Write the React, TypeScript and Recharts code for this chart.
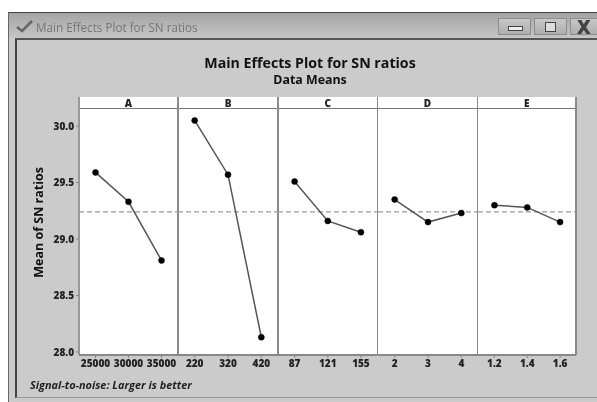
import React from "react";
import { LineChart, Line, XAxis, YAxis, ReferenceLine } from "recharts";

const levelsA = ["25000", "30000", "35000"];
const levelsB = ["220", "320", "420"];
const levelsC = ["87", "121", "155"];
const levelsD = ["2", "3", "4"];
const levelsE = ["1.2", "1.4", "1.6"];
const meansA = [29.59, 29.33, 28.81];
const meansB = [30.05, 29.57, 28.13];
const meansC = [29.51, 29.16, 29.06];
const meansD = [29.35, 29.15, 29.23];
const meansE = [29.3, 29.28, 29.15];
const grandMean = 29.24;
const yTicks = [28, 28.5, 29, 29.5, 30];
const factorNames = ["A", "B", "C", "D", "E"];
const factorLevels = [levelsA, levelsB, levelsC, levelsD, levelsE];
const factorMeans = [meansA, meansB, meansC, meansD, meansE];

const FONT = "'Open Sans', sans-serif";
const edges = [79, 178, 278, 377.5, 477.5, 576];
const plotTop = 108.5;
const plotBottom = 355;
const chartTop = 97;
const chartHeight = 300;
const yAxisWidth = 60;
const domain: [number, number] = [27.973, 30.156];

function Panel({ index }: { index: number }) {
  const first = index === 0;
  const w = edges[index + 1] - edges[index];
  const left = first ? yAxisWidth : 0;
  const data = factorLevels[index].map((level, i) => ({ level, mean: factorMeans[index][i] }));
  return (
    <div style={{ position: "absolute", left: edges[index] - left, top: chartTop }}>
      <LineChart
        width={w + left}
        height={chartHeight}
        data={data}
        margin={{ top: plotTop - chartTop, bottom: chartHeight - (plotBottom - chartTop) - 30, left: 0, right: 0 }}
        style={{ overflow: "visible" }}
      >
        <XAxis
          dataKey="level"
          scale="band"
          interval={0}
          height={30}
          tick={{ fontSize: 10, fontWeight: 800, fontFamily: FONT, fill: "#222" }}
          tickLine={{ stroke: "#888" }}
          tickSize={3}
          axisLine={{ stroke: "#888", strokeWidth: 2 }}
        />
        <YAxis
          hide={!first}
          width={yAxisWidth}
          domain={domain}
          ticks={yTicks}
          allowDataOverflow
          tickFormatter={(v: number) => v.toFixed(1)}
          tick={{ fontSize: 10, fontWeight: 800, fontFamily: FONT, fill: "#222" }}
          tickLine={{ stroke: "#888" }}
          tickSize={3}
          axisLine={false}
          label={{
            value: "Mean of SN ratios",
            angle: -90,
            position: "insideLeft",
            dx: 15,
            dy: 46,
            style: { fontSize: 12.5, fontWeight: 700, fontFamily: FONT, fill: "#111" },
          }}
        />
        <ReferenceLine y={grandMean} stroke="#999" strokeWidth={1.2} strokeDasharray="5 3" />
        <Line
          dataKey="mean"
          isAnimationActive={false}
          stroke="#555"
          strokeWidth={1.5}
          dot={{ r: 3, fill: "#000", stroke: "#000", strokeWidth: 0.5 }}
        />
      </LineChart>
    </div>
  );
}

const abs = (s: React.CSSProperties): React.CSSProperties => ({ position: "absolute", ...s });

function WinButton({ x, w, children }: { x: number; w: number; children: React.ReactNode }) {
  return (
    <div style={abs({ left: x, top: 18, width: w, height: 17, border: "1px solid #8d8d8d", background: "linear-gradient(#c8c8c8,#aeaeae)", boxSizing: "border-box" })}>
      {children}
    </div>
  );
}

export default function App() {
  return (
    <div style={abs({ left: 0, top: 0, width: 597, height: 402, background: "#fff", overflow: "hidden", fontFamily: FONT, filter: "blur(0.45px)" })}>
      {/* window */}
      <div style={abs({ left: 8, top: 12, width: 589, height: 390, background: "#cbcbcb", borderTop: "1px solid #444", borderLeft: "1px solid #666", boxSizing: "border-box" })} />
      <div style={abs({ left: 9, top: 13, width: 588, height: 25, background: "linear-gradient(#a4a4a4,#c6c6c6)" })} />
      <div style={abs({ left: 15, top: 38, width: 582, height: 360, borderTop: "2px solid #555", borderLeft: "2px solid #444", borderBottom: "1px solid #999", boxSizing: "border-box" })} />
      <svg style={abs({ left: 16, top: 19 })} width={18} height={14}>
        <path d="M1 8 L6 12 L16 2" fill="none" stroke="#666" strokeWidth={2.6} />
      </svg>
      <div style={abs({ left: 36, top: 18, fontSize: 11.7, color: "#757575", whiteSpace: "nowrap", lineHeight: "18px" })}>Main Effects Plot for SN ratios</div>
      <WinButton x={498} w={33}>
        <div style={abs({ left: 9, top: 7, width: 13, height: 3, background: "#eee", border: "1px solid #444" })} />
      </WinButton>
      <WinButton x={534} w={33}>
        <div style={abs({ left: 10, top: 3, width: 9, height: 8, border: "1.5px solid #444", background: "#ddd" })} />
      </WinButton>
      <WinButton x={570} w={30}>
        <div style={abs({ left: 6, top: -2, fontSize: 19, fontWeight: 800, lineHeight: "20px", color: "#444" })}>X</div>
      </WinButton>

      {/* titles */}
      <div style={abs({ left: 110, width: 400, top: 55, textAlign: "center", fontSize: 14.2, fontWeight: 700, color: "#111", lineHeight: "15px" })}>Main Effects Plot for SN ratios</div>
      <div style={abs({ left: 110, width: 400, top: 73, textAlign: "center", fontSize: 12.4, fontWeight: 700, color: "#111", lineHeight: "14px" })}>Data Means</div>

      {/* plot frame and strips */}
      <div style={abs({ left: edges[0], top: chartTop, width: edges[5] - edges[0], height: plotBottom - chartTop, background: "#fff" })} />
      <div style={abs({ left: edges[0], top: plotTop - 1, width: edges[5] - edges[0], height: 1.5, background: "#777" })} />
      {factorNames.map((name, i) => (
        <div key={name} style={abs({ left: edges[i], width: edges[i + 1] - edges[i], top: chartTop, height: 11.5, textAlign: "center", fontSize: 10, fontWeight: 800, lineHeight: "12px", color: "#222" })}>
          {name}
        </div>
      ))}
      {edges.map((x, i) => (
        <div key={i} style={abs({ left: x - 1, top: chartTop, width: i === 0 || i === 3 || i === 4 ? 1.5 : 2, height: plotBottom - chartTop, background: i === 0 ? "#999" : "#8a8a8a" })} />
      ))}

      {factorNames.map((name, i) => (
        <Panel key={name} index={i} />
      ))}

      <div style={abs({ left: 30, top: 377, fontSize: 10.9, fontWeight: 700, fontStyle: "italic", color: "#222", whiteSpace: "nowrap", lineHeight: "16px" })}>Signal-to-noise: Larger is better</div>
    </div>
  );
}
